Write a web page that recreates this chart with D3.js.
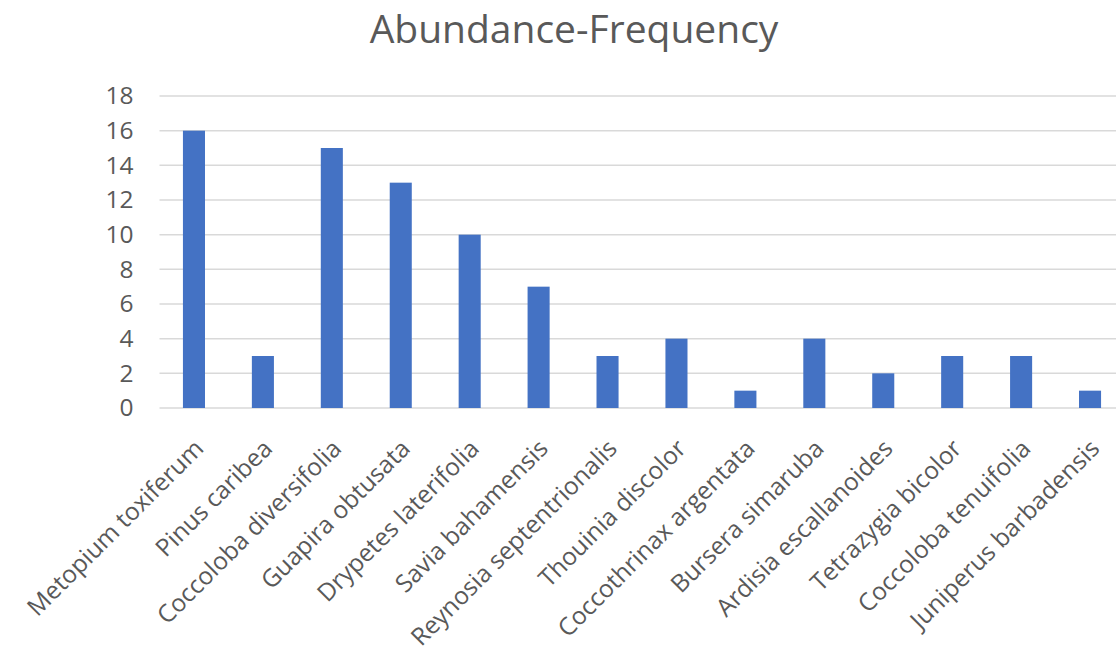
<!DOCTYPE html>
<html>
<head>
<meta charset="utf-8">
<script src="https://cdn.jsdelivr.net/npm/d3@7"></script>
<style>
  html, body { margin: 0; padding: 0; background: #fff; }
  svg { display: block; }
  text { font-family: "Open Sans", "Noto Sans", sans-serif; fill: #595959; }
</style>
</head>
<body>
<svg id="chart" width="1116" height="652"></svg>
<script>
// Species and their abundance-frequency counts
const species = [
  "Metopium toxiferum", "Pinus caribea", "Coccoloba diversifolia", "Guapira obtusata",
  "Drypetes laterifolia", "Savia bahamensis", "Reynosia septentrionalis", "Thouinia discolor",
  "Coccothrinax argentata", "Bursera simaruba", "Ardisia escallanoides", "Tetrazygia bicolor",
  "Coccoloba tenuifolia", "Juniperus barbadensis"
];
const counts = [16, 3, 15, 13, 10, 7, 3, 4, 1, 4, 2, 3, 3, 1];
const yTicks = [0, 2, 4, 6, 8, 10, 12, 14, 16, 18];
const chartTitle = "Abundance-Frequency";

const svg = d3.select("#chart");
const margin = { left: 159.5, right: -8.5, top: 96, bottom: 244 };
const W = 1116, H = 652;
const labelSize = "24.5px";

const x = d3.scaleBand()
  .domain(species)
  .range([margin.left, W - margin.right])
  .paddingInner(0.68)
  .paddingOuter(0.34);

const y = d3.scaleLinear()
  .domain([0, 18])
  .range([H - margin.bottom, margin.top]);

// Title
svg.append("text")
  .attr("x", 574)
  .attr("y", 43)
  .attr("text-anchor", "middle")
  .style("font-size", "39px")
  .text(chartTitle);

// Horizontal gridlines
svg.append("g")
  .selectAll("line")
  .data(yTicks)
  .join("line")
  .attr("x1", margin.left)
  .attr("x2", W - margin.right)
  .attr("y1", d => y(d))
  .attr("y2", d => y(d))
  .attr("stroke", "#d9d9d9")
  .attr("stroke-width", 1.5);

// Y axis labels
const yAxis = svg.append("g")
  .attr("transform", `translate(${margin.left},0)`)
  .call(d3.axisLeft(y).tickValues(yTicks).tickSize(0).tickPadding(26));
yAxis.select(".domain").remove();
yAxis.selectAll("text")
  .style("font-size", labelSize)
  .style("fill", "#595959")
  .style("font-family", "'Open Sans', sans-serif");

// Bars
svg.append("g")
  .selectAll("rect")
  .data(species.map((s, i) => ({ s, v: counts[i] })))
  .join("rect")
  .attr("x", d => x(d.s))
  .attr("y", d => y(d.v))
  .attr("width", x.bandwidth())
  .attr("height", d => y(0) - y(d.v))
  .attr("fill", "#4472C4");

// Category axis with rotated labels
const xAxis = svg.append("g")
  .attr("transform", `translate(0,${y(0)})`)
  .call(d3.axisBottom(x).tickSize(0).tickPadding(0));
xAxis.select(".domain").remove();
xAxis.selectAll("text")
  .style("font-size", labelSize)
  .style("fill", "#595959")
  .style("font-family", "'Open Sans', sans-serif")
  .attr("text-anchor", "end")
  .attr("dy", null)
  .attr("transform", "translate(11,42) rotate(-45)");
</script>
</body>
</html>
